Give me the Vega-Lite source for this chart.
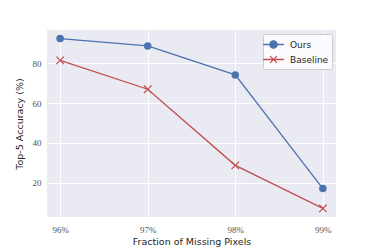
{
  "$schema": "https://vega.github.io/schema/vega-lite/v6.json",
  "width": 289,
  "height": 187,
  "autosize": {"type": "none"},
  "padding": {"left": 47, "top": 30, "right": 38, "bottom": 32},
  "background": "white",
  "config": {
    "view": {"fill": "#EAEAF2", "stroke": null},
    "axis": {
      "grid": true, "gridColor": "white", "gridWidth": 1, "domain": false, "ticks": false,
      "labelFont": "Liberation Serif", "labelFontSize": 9, "labelColor": "#555555",
      "titleFont": "DejaVu Sans", "titleFontSize": 9.5, "titleFontWeight": "normal", "titleColor": "#262626"
    }
  },
  "data": {"values": [
    {"x": 96, "y": 92.5, "method": "Ours"},
    {"x": 97, "y": 88.8, "method": "Ours"},
    {"x": 98, "y": 74.2, "method": "Ours"},
    {"x": 99, "y": 17, "method": "Ours"},
    {"x": 96, "y": 81.5, "method": "Baseline"},
    {"x": 97, "y": 67, "method": "Baseline"},
    {"x": 98, "y": 28.7, "method": "Baseline"},
    {"x": 99, "y": 7, "method": "Baseline"}
  ]},
  "encoding": {
    "x": {"field": "x", "type": "quantitative", "scale": {"domain": [95.85, 99.15], "nice": false, "zero": false},
      "axis": {"values": [96, 97, 98, 99], "labelExpr": "datum.value + '%'", "title": "Fraction of Missing Pixels", "labelPadding": 8, "titlePadding": 2}},
    "y": {"field": "y", "type": "quantitative", "scale": {"domain": [2.7, 96.8], "nice": false, "zero": false},
      "axis": {"values": [20, 40, 60, 80], "title": "Top-5 Accuracy (%)", "labelPadding": 6, "titlePadding": 8}}
  },
  "layer": [
    {"mark": {"type": "line", "strokeWidth": 1.3},
      "encoding": {
        "color": {"field": "method", "type": "nominal", "scale": {"domain": ["Ours", "Baseline"], "range": ["#4C72B0", "#C44E52"]},
          "legend": {
            "title": null, "orient": "top-right", "offset": 4,
            "fillColor": "rgba(255,255,255,0.8)", "strokeColor": "#cccccc", "cornerRadius": 2, "padding": 3,
            "labelFont": "DejaVu Sans", "labelFontSize": 9, "labelColor": "#262626",
            "symbolSize": 169, "symbolStrokeWidth": 1.3, "rowPadding": 1, "labelOffset": 9,
            "encode": {"symbols": {"update": {
              "shape": {"signal": "datum.value === 'Ours' ? 'M-1.6,0H1.6M-0.56,0A0.56,0.56 0 1,1 0.56,0A0.56,0.56 0 1,1 -0.56,0Z' : 'M-1.6,0H1.6M-0.52,-0.52L0.52,0.52M-0.52,0.52L0.52,-0.52'"},
              "fill": {"signal": "datum.value === 'Ours' ? '#4C72B0' : 'transparent'"},
              "stroke": {"signal": "datum.value === 'Ours' ? '#4C72B0' : '#C44E52'"}
            }}}
          }}
      }},
    {"transform": [{"filter": "datum.method === 'Ours'"}],
      "mark": {"type": "point", "shape": "circle", "filled": true, "size": 56, "color": "#4C72B0", "opacity": 1}},
    {"transform": [{"filter": "datum.method === 'Baseline'"}],
      "mark": {"type": "point", "shape": "M-1,-1L1,1M-1,1L1,-1", "filled": false, "size": 56, "strokeWidth": 1.2, "color": "#C44E52", "opacity": 1}}
  ]
}
